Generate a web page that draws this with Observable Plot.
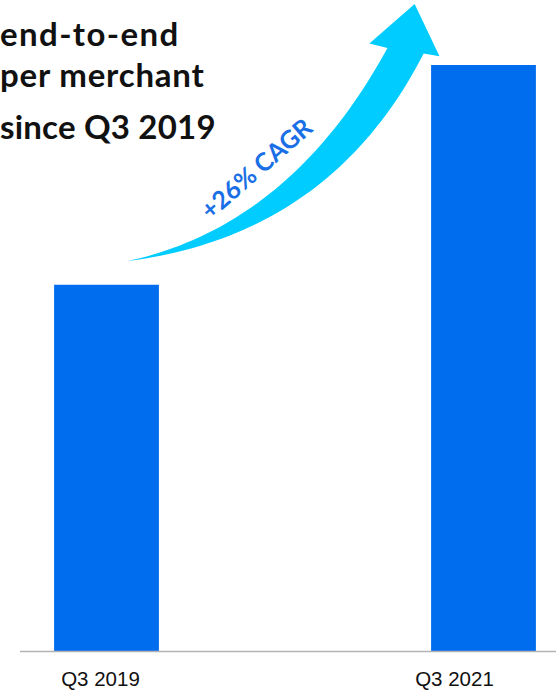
<!DOCTYPE html>
<html>
<head>
<meta charset="utf-8">
<script src="https://cdn.jsdelivr.net/npm/d3@7"></script>
<script src="https://cdn.jsdelivr.net/npm/@observablehq/plot@0.6"></script>
<style>
  html, body { margin: 0; padding: 0; background: #fff; overflow: hidden; }
  #wrap { position: relative; width: 556px; height: 690px; overflow: hidden; }
  #chart { position: absolute; left: 0; top: 0; }
  .title { position: absolute; left: 0px; font-family: Lato, "Noto Sans", sans-serif; font-weight: 700; font-size: 33px; color: #111; white-space: nowrap; line-height: 1; letter-spacing: 0.8px; }
</style>
</head>
<body>
<div id="wrap">
  <div id="chart"></div>
  <div class="title" style="top:17px; letter-spacing:1.4px">end-to-end</div>
  <div class="title" style="top:58px">per merchant</div>
  <div class="title" style="top:110px; letter-spacing:0.2px">since Q3 2019</div>
</div>
<script>
// ---- data ----
const categories = ["Q3 2019", "Q3 2021"];
const values = [100, 160];          // indexed value per merchant (Q3 2019 = 100)
const annotationText = ["+26% CAGR"];

// ---- build ----
const data = categories.map((c, i) => ({ category: c, index: i, value: values[i] }));
const barHalf = 0.139;               // half bar width, in category-index units
const v0 = values[0], v1 = values[1], dv = v1 - v0;

// growth arrow (annotation), anchored to the data values
const T  = [0.054, v0 + 0.11 * dv];
const Cu = [0.487, v0 + 0.27 * dv];
const A  = [0.744, v1 + 0.08 * dv];
const Cl = [0.593, v0 + 0.227 * dv];
const B  = [0.840, v1 + 0.055 * dv];
const Lb = [0.696, v1 + 0.10 * dv];
const Tp = [0.816, v1 + 0.28 * dv];
const Rb = [0.882, v1 + 0.042 * dv];
function quad(p0, c, p1, t) {
  const u = 1 - t;
  return [u*u*p0[0] + 2*u*t*c[0] + t*t*p1[0], u*u*p0[1] + 2*u*t*c[1] + t*t*p1[1]];
}
const arrowPts = [];
const N = 48;
for (let k = 0; k <= N; k++) arrowPts.push(quad(T, Cu, A, k / N));
arrowPts.push(Lb, Tp, Rb);
for (let k = N; k >= 0; k--) arrowPts.push(quad(T, Cl, B, k / N));
const labelAt = quad(T, Cu, A, 0.5);

const chart = Plot.plot({
  width: 556,
  height: 690,
  marginLeft: 20,
  marginRight: 0,
  marginTop: 65,
  marginBottom: 39,
  style: { background: "transparent", overflow: "visible" },
  x: { type: "linear", domain: [-0.22944, 1.19231], axis: null },
  y: { domain: [0, 160], axis: null },
  marks: [
    Plot.rectY(data, {
      x1: d => d.index - barHalf,
      x2: d => d.index + barHalf,
      y: "value",
      fill: "#006DEE"
    }),
    Plot.ruleY([0], { stroke: "#b3b3b3", strokeWidth: 1.6 }),
    Plot.line(arrowPts, { x: d => d[0], y: d => d[1], fill: "#00CCFF", stroke: "none", curve: "linear" }),
    Plot.text(annotationText, {
      x: () => labelAt[0], y: () => labelAt[1], text: d => d,
      rotate: -41, dx: -17, dy: -21,
      fill: "#1A6FE6", fontSize: 25, fontWeight: 700,
      fontFamily: "Lato, 'Noto Sans', sans-serif", textAnchor: "middle", lineAnchor: "middle",
      style: "letter-spacing:0.6px"
    }),
    Plot.text(data.filter(d => d.index === 0), {
      x: "index", y: 0, text: "category", dy: 28, dx: -6.5,
      fontSize: 20.5, fill: "#111", fontFamily: "'Liberation Sans', Arial, sans-serif", lineAnchor: "middle"
    }),
    Plot.text(data.filter(d => d.index === 1), {
      x: "index", y: 0, text: "category", dy: 28, dx: -29.5,
      fontSize: 20.5, fill: "#111", fontFamily: "'Liberation Sans', Arial, sans-serif", lineAnchor: "middle"
    })
  ]
});
document.getElementById("chart").appendChild(chart);
</script>
</body>
</html>
